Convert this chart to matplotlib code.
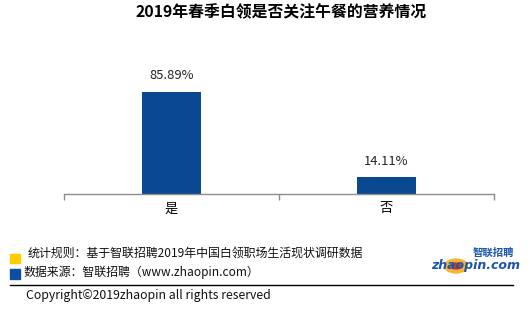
import matplotlib
matplotlib.use("Agg")
import matplotlib.pyplot as plt
from matplotlib.patches import Rectangle, Circle
from matplotlib.lines import Line2D

plt.rcParams['font.family'] = ['Noto Sans CJK SC', 'DejaVu Sans']

# 数据
categories = ['是', '否']
values = [85.89, 14.11]
labels = ['85.89%', '14.11%']

title = '2019年春季白领是否关注午餐的营养情况'
note1 = '统计规则：基于智联招聘2019年中国白领职场生活现状调研数据'
note2 = '数据来源：智联招聘（www.zhaopin.com）'
copyright_txt = 'Copyright©2019zhaopin all rights reserved'

W, H = 530, 327
fig = plt.figure(figsize=(W / 100, H / 100), dpi=100)
fig.patch.set_facecolor('white')

# axes: x 64..494, y from 60 to 194 (pixels from top)
ax = fig.add_axes([64 / W, 1 - 194 / H, 430 / W, 134 / H])
bar_color = '#0A4892'
x = range(len(categories))
ax.bar(x, values, width=0.27, color=bar_color)
ax.set_xlim(-0.5, 1.5)
ax.set_ylim(0, 134 / 1.1876)
for i, (v, lab) in enumerate(zip(values, labels)):
    ax.text(i, v + 8, lab, ha='center', va='bottom', fontsize=9.3, color='#222222')

for s in ['top', 'right', 'left']:
    ax.spines[s].set_visible(False)
ax.spines['bottom'].set_color('#8c8c8c')
ax.spines['bottom'].set_linewidth(1)
ax.set_yticks([])
ax.set_xticks([-0.5, 0.5, 1.5])
ax.set_xticklabels([])
ax.tick_params(axis='x', direction='out', length=4, color='#8c8c8c', width=1)
ax.set_xticks(list(x), minor=True)
ax.set_xticklabels(categories, minor=True, fontsize=9.5)
ax.tick_params(axis='x', which='minor', length=0, pad=6)

# title
fig.text(281 / W, 1 - 12 / H, title, ha='center', va='center',
         fontsize=11.4, fontweight='bold', color='black')

# footer legend squares
fig.patches.append(Rectangle((10 / W, 1 - 263 / H), 10 / W, 9 / H,
                             transform=fig.transFigure, color='#FFCC00'))
fig.patches.append(Rectangle((10 / W, 1 - 279 / H), 10 / W, 10 / H,
                             transform=fig.transFigure, color='#0B4EA2'))
fig.text(28 / W, 1 - 254 / H, note1, ha='left', va='center', fontsize=8.6, color='#111111')
fig.text(23 / W, 1 - 272 / H, note2, ha='left', va='center', fontsize=8.6, color='#111111')

fig.lines.append(Line2D([10 / W, 513 / W], [1 - 285 / H, 1 - 285 / H],
                        transform=fig.transFigure, color='black', linewidth=1))
fig.text(26 / W, 1 - 295 / H, copyright_txt, ha='left', va='center', fontsize=8.85, color='#111111')

# logo
fig.patches.append(Circle((456 / W, 1 - 266 / H), 7 / H, transform=fig.transFigure,
                          color='#F9B233', zorder=1))
fig.patches.append(Circle((456 / W, 1 - 266 / H), 3 / H, transform=fig.transFigure,
                          color='#D9381E', zorder=1))
fig.text(493 / W, 1 - 253 / H, '智联招聘', ha='center', va='center', fontsize=7.5,
         fontweight='bold', color='#1B56A8', style='italic', zorder=2)
fig.text(476 / W, 1 - 266 / H, 'zhaopin.com', ha='center', va='center', fontsize=9,
         fontweight='bold', color='#1B56A8', style='italic', family='DejaVu Sans', zorder=2)

fig.savefig('out.png', dpi=100)
